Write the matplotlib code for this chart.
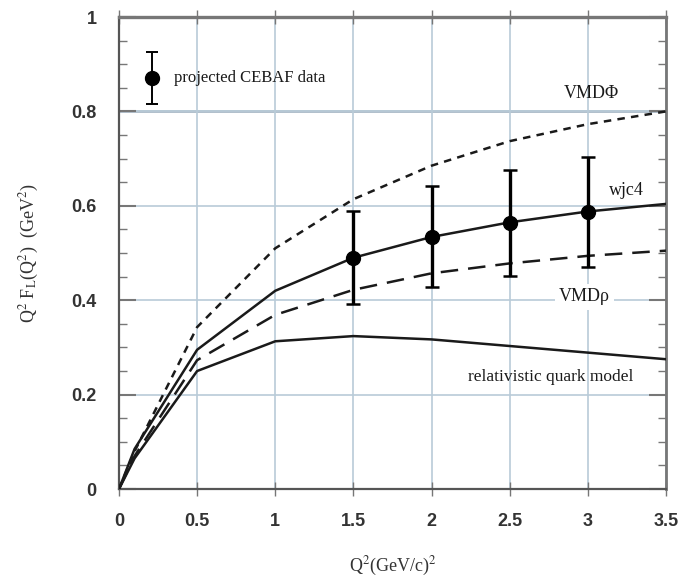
import matplotlib
matplotlib.use("Agg")
from matplotlib import pyplot as plt
from matplotlib import ticker


FIGSIZE = (683, 579)
DPI = 100

GRID_COLOR = "#b9cbd8"
AXIS_COLOR = "#555555"
INK = "#1a1a1a"

plt.rcParams["mathtext.fontset"] = "stix"

# curves
q2 = [0, 0.1, 0.5, 1.0, 1.5, 2.0, 2.5, 3.0, 3.5]
wjc4 = [0, 0.085, 0.295, 0.42, 0.49, 0.534, 0.565, 0.588, 0.604]
vmd_phi = [0, 0.08, 0.343, 0.51, 0.614, 0.685, 0.737, 0.773, 0.80]
vmd_rho = [0, 0.07, 0.273, 0.369, 0.422, 0.457, 0.478, 0.494, 0.505]
rqm = [0, 0.065, 0.25, 0.313, 0.324, 0.317, 0.303, 0.289, 0.275]

# projected CEBAF data
data_x = [1.5, 2.0, 2.5, 3.0]
data_y = [0.49, 0.534, 0.564, 0.587]
data_err = [0.099, 0.107, 0.112, 0.117]

serif = "Liberation Serif"
sans = "Liberation Sans"

fig = plt.figure(figsize=(FIGSIZE[0]/DPI, FIGSIZE[1]/DPI), dpi=DPI)
ax = fig.add_axes([0.1742, 0.1554, 0.8008, 0.8152])

ax.set_xlim(0, 3.5)
ax.set_ylim(0, 1)

ax.xaxis.set_major_locator(ticker.MultipleLocator(0.5))
ax.yaxis.set_major_locator(ticker.MultipleLocator(0.2))
ax.yaxis.set_minor_locator(ticker.MultipleLocator(0.05))
ax.xaxis.set_major_formatter(ticker.FuncFormatter(lambda v, p: "%g" % v))
ax.yaxis.set_major_formatter(ticker.FuncFormatter(lambda v, p: "%g" % v))

ax.grid(True, which="major", color=GRID_COLOR, linewidth=1.2, zorder=0)
ax.axhline(0.8, color="#a9b9c6", linewidth=2.0, zorder=0.5)

for side in ["left", "bottom"]:
    ax.spines[side].set_color(AXIS_COLOR)
    ax.spines[side].set_linewidth(1.6)
ax.spines["top"].set_color("#777777")
ax.spines["top"].set_linewidth(2.4)
ax.spines["right"].set_color("#777777")
ax.spines["right"].set_linewidth(2.0)

ax.tick_params(axis="x", which="major", direction="inout", length=10, width=1.0,
               color="#777777", top=True, labelsize=13, pad=12)
ax.tick_params(axis="y", which="major", direction="in", length=12, width=1.5,
               color="#777777", right=True, labelsize=13, pad=16)
ax.tick_params(axis="y", which="minor", direction="in", length=6, width=1.0,
               color="#777777", right=True)
for lab in ax.get_xticklabels() + ax.get_yticklabels():
    lab.set_fontfamily(sans)
    lab.set_fontweight("bold")
    lab.set_color("#333333")

ax.plot(q2, vmd_phi, color=INK, linewidth=1.8, dashes=(3, 2.5), zorder=3)
ax.plot(q2, vmd_rho, color=INK, linewidth=1.8, dashes=(7, 4), zorder=3)
ax.plot(q2, wjc4, color=INK, linewidth=1.8, zorder=3)
ax.plot(q2, rqm, color=INK, linewidth=1.8, zorder=3)

ax.errorbar(data_x, data_y, yerr=data_err, fmt="o", color="black", markersize=10,
            elinewidth=2.4, capsize=5, capthick=1.8, zorder=5)

# legend entry
ax.errorbar([0.21], [0.87], yerr=[0.055], fmt="o", color="black", markersize=10,
            elinewidth=1.4, capsize=4, capthick=1.4, zorder=5)
ax.text(0.35, 0.87, "projected CEBAF data", family=serif, fontsize=12,
        va="center", ha="left", color=INK)

ax.text(3.02, 0.838, "VMDΦ", family=serif, fontsize=13, ha="center", va="center",
        color=INK, zorder=2)
ax.text(3.25, 0.632, "wjc4", family=serif, fontsize=13, ha="center", va="center",
        color=INK, zorder=2)
ax.text(2.98, 0.407, "VMDρ", family=serif, fontsize=13, ha="center", va="center",
        color=INK, bbox=dict(facecolor="white", edgecolor="none", pad=3), zorder=2)
ax.text(2.76, 0.237, "relativistic quark model", family=serif, fontsize=12.5,
        ha="center", va="center", color=INK, zorder=2)

ax.set_xlabel("Q$^2$(GeV/c)$^2$", family=serif, fontsize=13, labelpad=18, color="#333333")
ax.set_ylabel(r"Q$^2$ F$_\mathrm{L}$(Q$^2$)  (GeV$^2$)", family=serif, fontsize=13,
              labelpad=22, color="#333333")

fig.savefig("out.png", dpi=DPI)
